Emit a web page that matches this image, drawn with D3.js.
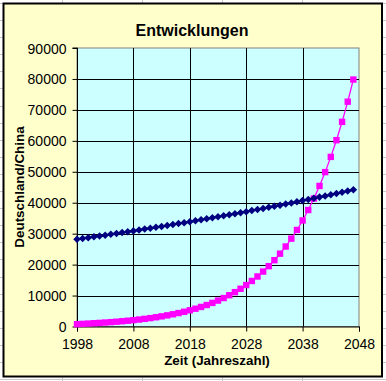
<!DOCTYPE html>
<html>
<head>
<meta charset="utf-8">
<script src="https://cdn.jsdelivr.net/npm/d3@7"></script>
<style>
html,body{margin:0;padding:0;background:#fff;}
svg{display:block;}
text{font-family:"Liberation Sans",Arial,sans-serif;}
</style>
</head>
<body>
<svg id="c" width="386" height="381"></svg>
<script>
const years = d3.range(1998, 2048);
const deutschland = [28200,28460,28720,28990,29250,29520,29790,30070,30340,30620,
  30900,31190,31480,31770,32060,32350,32650,32950,33250,33560,
  33870,34180,34500,34810,35130,35460,35780,36110,36440,36780,
  37120,37460,37800,38150,38500,38860,39210,39570,39940,40310,
  40680,41050,41430,41810,42190,42580,42970,43370,43770,44170];
const china = [750,850,950,1060,1165,1280,1405,1545,1695,1865,
  2045,2250,2470,2710,2980,3275,3595,3950,4340,4765,
  5235,5750,6320,6940,7620,8375,9200,10105,11100,12195,
  13395,14715,16160,17755,19500,21425,23535,25850,28400,31195,
  34265,37640,41350,45420,49895,54810,60205,66135,72650,79805];
const xTicks = [1998, 2008, 2018, 2028, 2038, 2048];
const yTicks = [0,10000,20000,30000,40000,50000,60000,70000,80000,90000];
const title = "Entwicklungen";
const xTitle = "Zeit (Jahreszahl)";
const yTitle = "Deutschland/China";

const svg = d3.select("#c");

// spreadsheet background grid
const bg = svg.append("g");
[62.5, 142.5, 222.5, 302.5].forEach(x =>
  bg.append("line").attr("x1", x).attr("x2", x).attr("y1", 0).attr("y2", 381)
    .attr("stroke", "#c8c8c8").attr("stroke-width", 1));
for (let i = 0; i < 23; i++) {
  const y = Math.round(2.9 + 17.1 * i) + 0.5;
  bg.append("line").attr("x1", 0).attr("x2", 386).attr("y1", y).attr("y2", y)
    .attr("stroke", "#c8c8c8").attr("stroke-width", 1);
}

// chart area
svg.append("rect").attr("x", 3.5).attr("y", 3.5).attr("width", 378.5).attr("height", 373)
  .attr("fill", "#FFFFCC").attr("stroke", "#000").attr("stroke-width", 2);

const L = 77, R = 359, T = 48, B = 326.5;
const x = d3.scaleLinear().domain([1998, 2048]).range([L, R]);
const y = d3.scaleLinear().domain([0, 90000]).range([B, T]);

// plot area
svg.append("rect").attr("x", L).attr("y", T).attr("width", R - L).attr("height", B - T)
  .attr("fill", "#CCFFFF").attr("stroke", "#808080").attr("stroke-width", 1);

// gridlines
const grid = svg.append("g");
yTicks.slice(1).forEach(v => {
  const yy = Math.round(y(v)) + 0.5;
  if (v < 90000) grid.append("line").attr("x1", L).attr("x2", R).attr("y1", yy).attr("y2", yy)
    .attr("stroke", "#000").attr("stroke-width", 1);
});
xTicks.slice(1, -1).forEach(v => {
  const xx = Math.round(x(v)) + 0.5;
  grid.append("line").attr("x1", xx).attr("x2", xx).attr("y1", T).attr("y2", B)
    .attr("stroke", "#000").attr("stroke-width", 1);
});

// axes
const yAxis = d3.axisLeft(y).tickValues(yTicks).tickSize(5).tickPadding(6).tickFormat(d3.format("d"));
const xAxis = d3.axisBottom(x).tickValues(xTicks).tickSize(5).tickPadding(8).tickFormat(d3.format("d"));
const ga = svg.append("g").attr("transform", `translate(${L + 0.5},0)`).call(yAxis);
const gx = svg.append("g").attr("transform", `translate(0,${B})`).call(xAxis);
[ga, gx].forEach(g => {
  g.select(".domain").attr("stroke", "#000").attr("stroke-width", 1);
  g.selectAll(".tick line").attr("stroke", "#000");
  g.selectAll("text").attr("fill", "#000").style("font-size", "14px")
    .style("font-family", "'Liberation Sans', Arial, sans-serif");
});
ga.select(".domain").attr("d", `M-5,${T}H0V${B}`);
ga.selectAll("text").attr("dy", "0.36em");

// series
const line = d3.line().x((d, i) => x(years[i])).y(d => y(d));
svg.append("path").datum(china).attr("d", line).attr("fill", "none")
  .attr("stroke", "#FF00FF").attr("stroke-width", 1.3);
svg.append("path").datum(deutschland).attr("d", line).attr("fill", "none")
  .attr("stroke", "#000080").attr("stroke-width", 2);

svg.append("g").selectAll("rect").data(china).join("rect")
  .attr("x", (d, i) => x(years[i]) - 3.2).attr("y", d => y(d) - 3.2)
  .attr("width", 6.4).attr("height", 6.4).attr("fill", "#FF00FF");

const diamond = d3.symbol().type(d3.symbolDiamond2).size(36);
svg.append("g").selectAll("path").data(deutschland).join("path")
  .attr("transform", (d, i) => `translate(${x(years[i])},${y(d)})`)
  .attr("d", diamond).attr("fill", "#000080");

// titles
svg.append("text").attr("x", 192).attr("y", 36).attr("text-anchor", "middle")
  .style("font-size", "16px").style("font-weight", "bold").text(title);
svg.append("text").attr("x", 217).attr("y", 365).attr("text-anchor", "middle")
  .style("font-size", "13.4px").style("font-weight", "bold").text(xTitle);
svg.append("text").attr("transform", "translate(24,187) rotate(-90)").attr("text-anchor", "middle")
  .style("font-size", "13.4px").style("font-weight", "bold").text(yTitle);
</script>
</body>
</html>
